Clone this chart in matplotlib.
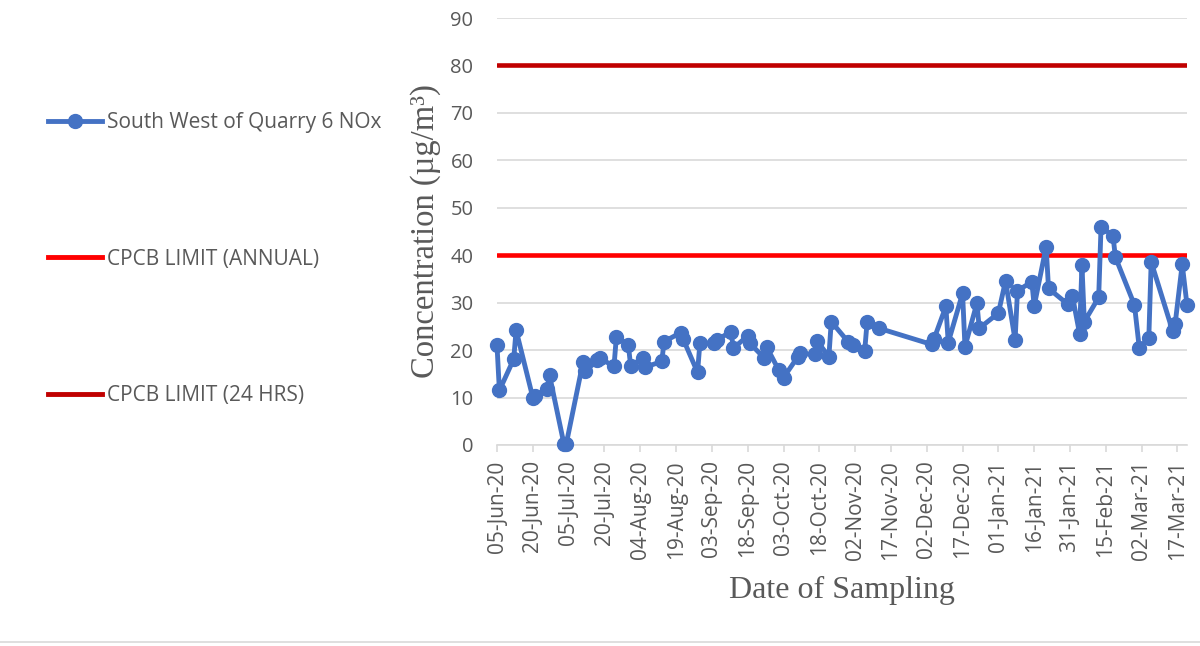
import matplotlib
matplotlib.use("Agg")
import matplotlib.pyplot as plt
import matplotlib.dates as mdates
from matplotlib.lines import Line2D
import datetime as dt

# ---- data ----
dates = [
    "2020-06-05", "2020-06-06", "2020-06-12", "2020-06-13", "2020-06-20", "2020-06-21",
    "2020-06-26", "2020-06-27", "2020-07-03", "2020-07-04", "2020-07-11", "2020-07-12",
    "2020-07-17", "2020-07-18", "2020-07-24", "2020-07-25", "2020-07-30", "2020-07-31",
    "2020-08-05", "2020-08-06", "2020-08-13", "2020-08-14", "2020-08-21", "2020-08-22",
    "2020-08-28", "2020-08-29", "2020-09-04", "2020-09-05", "2020-09-11", "2020-09-12",
    "2020-09-18", "2020-09-19", "2020-09-25", "2020-09-26", "2020-10-01", "2020-10-03",
    "2020-10-09", "2020-10-10", "2020-10-16", "2020-10-17", "2020-10-22", "2020-10-23",
    "2020-10-30", "2020-11-01", "2020-11-06", "2020-11-07", "2020-11-12", "2020-12-04",
    "2020-12-05", "2020-12-10", "2020-12-11", "2020-12-17", "2020-12-18", "2020-12-23",
    "2020-12-24", "2021-01-01", "2021-01-04", "2021-01-08", "2021-01-09", "2021-01-15",
    "2021-01-16", "2021-01-21", "2021-01-22", "2021-01-30", "2021-02-01", "2021-02-04",
    "2021-02-05", "2021-02-06", "2021-02-12", "2021-02-13", "2021-02-18", "2021-02-19",
    "2021-02-27", "2021-03-01", "2021-03-05", "2021-03-06", "2021-03-15", "2021-03-16",
    "2021-03-19", "2021-03-21",
]
nox = [
    21.0, 11.5, 18.1, 24.2, 10.0, 10.4,
    11.7, 14.7, 0.3, 0.2, 17.4, 15.5,
    17.9, 18.3, 16.6, 22.8, 21.1, 16.6,
    18.4, 16.4, 17.6, 21.8, 23.7, 22.3,
    15.3, 21.6, 21.4, 22.1, 23.9, 20.4,
    23.0, 21.4, 18.3, 20.6, 15.8, 14.2,
    18.6, 19.3, 19.1, 22.0, 18.6, 26.0,
    21.8, 21.1, 19.8, 25.9, 24.6, 21.2,
    22.3, 29.2, 21.6, 32.0, 20.7, 29.9,
    24.6, 27.8, 34.6, 22.1, 32.5, 34.4,
    29.3, 41.8, 33.0, 29.7, 31.4, 23.5,
    37.9, 26.0, 31.1, 46.0, 44.1, 39.6,
    29.5, 20.5, 22.5, 38.6, 24.0, 25.4,
    38.1, 29.5,
]
limit_annual = 40
limit_24h = 80
series_names = ["South West of Quarry 6 NOx", "CPCB LIMIT (ANNUAL)", "CPCB LIMIT (24 HRS)"]
yticks = [0, 10, 20, 30, 40, 50, 60, 70, 80, 90]

x = [dt.datetime.strptime(d, "%Y-%m-%d") for d in dates]
x0 = x[0]
x1 = x[-1]

plt.rcParams['font.family'] = ['Open Sans', 'DejaVu Sans']
grey = "#595959"
serif = ["Liberation Serif", "DejaVu Serif"]

fig = plt.figure(figsize=(12, 6.46), dpi=100)
ax = fig.add_axes([497/1200, 1 - 445/646, (1187 - 497)/1200, (445 - 18)/646])

ax.axhline(limit_24h, color="#C00000", lw=3.3, zorder=3, solid_capstyle="round")
ax.axhline(limit_annual, color="#FF0000", lw=3.3, zorder=3, solid_capstyle="round")
ax.plot(x, nox, color="#4472C4", lw=3.5, marker="o", markersize=10,
        zorder=4, solid_joinstyle="round", clip_on=False)

ax.set_xlim(x0, x1)
ax.set_ylim(0, 90)
ax.set_yticks(yticks)
ticks = []
t = x0
while t <= x1:
    ticks.append(t)
    t = t + dt.timedelta(days=15)
ax.set_xticks(ticks)
ax.xaxis.set_major_formatter(mdates.DateFormatter("%d-%b-%y"))
plt.setp(ax.get_xticklabels(), rotation=90)

ax.grid(axis="y", color="#d9d9d9", lw=1.2, zorder=0)
for s in ["top", "right", "left"]:
    ax.spines[s].set_visible(False)
ax.spines["bottom"].set_color("#d9d9d9")
ax.spines["bottom"].set_linewidth(1.2)
ax.tick_params(axis="y", length=0, pad=17, labelsize=14.5, labelcolor=grey)
ax.tick_params(axis="x", length=5, width=1.2, color="#d9d9d9", pad=6,
               labelsize=15, labelcolor=grey)

ax.set_ylabel("Concentration (µg/m³)", family=serif, fontsize=23.5, color=grey)
ax.yaxis.set_label_coords((441 - 497)/690, 0.5)
ax.set_xlabel("Date of Sampling", family=serif, fontsize=23, color=grey)
ax.xaxis.set_label_coords(0.5, -(576 - 445)/427)

handles = [
    Line2D([], [], color="#4472C4", lw=3.5, marker="o", markersize=10),
    Line2D([], [], color="#FF0000", lw=3.5),
    Line2D([], [], color="#C00000", lw=3.5),
]
fig.legend(handles, series_names, loc="upper left",
           bbox_to_anchor=(48/1200, 1 - 112/646), frameon=False,
           borderpad=0, borderaxespad=0, handlelength=2.6, handletextpad=0.24,
           labelspacing=5.55, fontsize=15, labelcolor=grey)

fig.add_artist(Line2D([0, 1], [1 - 642/646, 1 - 642/646], transform=fig.transFigure,
                      color="#d9d9d9", lw=1.2))

fig.savefig("out.png", dpi=100)
